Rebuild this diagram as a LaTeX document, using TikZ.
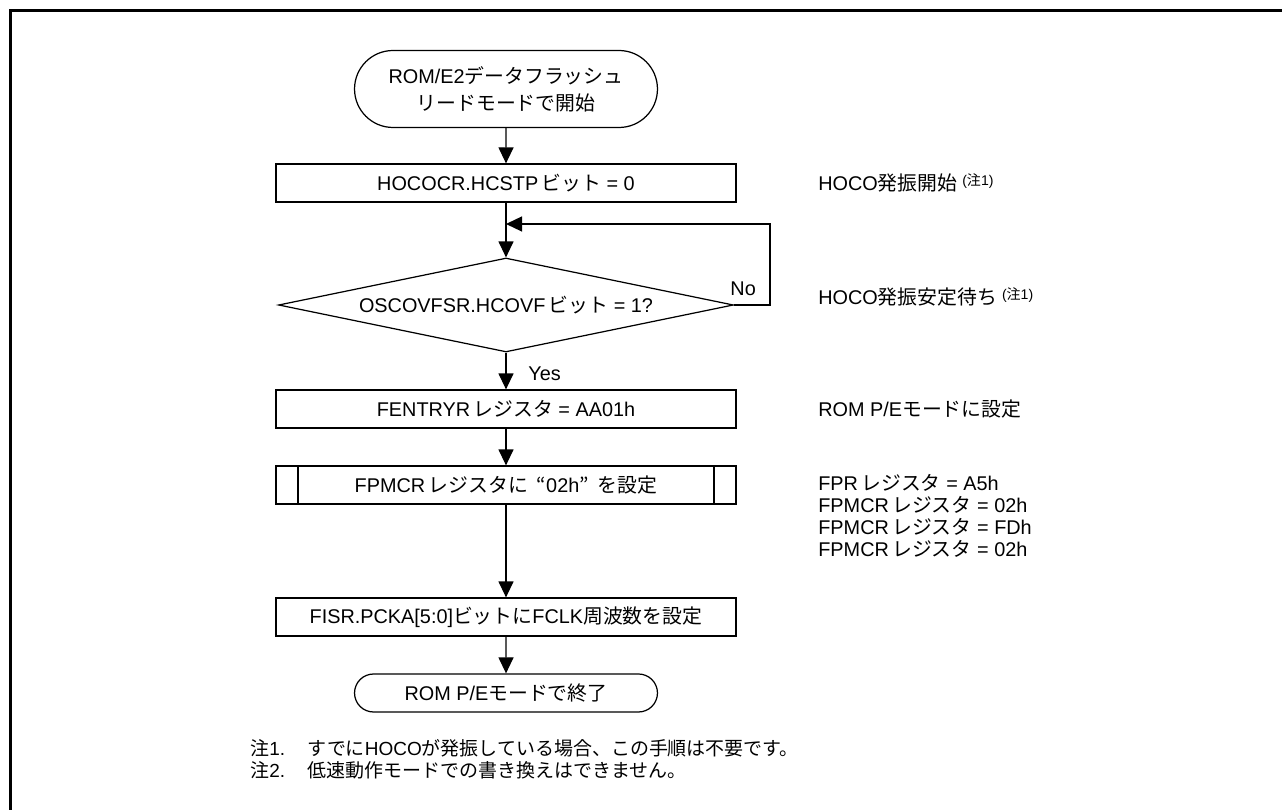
\documentclass[tikz,border=0pt]{standalone}
\usepackage{fontspec}
\setmainfont{Liberation Sans}
\newfontfamily\jpfont{Noto Sans CJK JP}
\newcommand{\jp}[1]{{\jpfont #1}}
\newcommand{\chu}[1]{\hspace{0.25em}\raisebox{0.55ex}{\fontsize{8pt}{8pt}\selectfont(\jp{注}#1)}}
\usetikzlibrary{arrows.meta,shapes.geometric,shapes.misc,positioning,calc}

\tikzset{
  stepbox/.style={draw,line width=0.7pt,rectangle,minimum width=9.2cm,minimum height=0.76cm,inner sep=0pt},
  termbox/.style={draw,line width=0.7pt,rounded rectangle,minimum width=6.06cm,inner sep=0pt,align=center},
  askbox/.style={draw,line width=0.7pt,diamond,aspect=4.8,minimum width=9.1cm,minimum height=1.88cm,inner sep=0pt},
  note/.style={anchor=west,inner sep=0pt,align=left},
  link/.style={line width=0.7pt,-{Triangle[length=3.2mm,width=3mm]}},
}

\begin{document}
\begin{tikzpicture}[x=0.02cm,y=-0.02cm,font=\fontsize{11.3pt}{12.6pt}\selectfont]
  \useasboundingbox (0,0) rectangle (1282,810);
  % frame
  \draw[line width=1.7pt] (10.5,810) -- (10.5,10.5) -- (1282,10.5);

  % flow
  \node[termbox,minimum height=1.54cm,font=\fontsize{11.3pt}{15.5pt}\selectfont] (start) at (506,89) {ROM/E2\jp{データフラッシュ}\\\jp{リードモードで開始}};
  \node[stepbox] (hcstp) at (506,183) {HOCOCR.HCSTP\,\jp{ビット} = 0};
  \node[askbox] (hcovf) at (506,305) {OSCOVFSR.HCOVF\,\jp{ビット} = 1?};
  \node[stepbox] (fentry) at (506,409) {FENTRYR\,\jp{レジスタ} = AA01h};
  \node[stepbox] (fpmcr) at (506,485) {FPMCR\,\jp{レジスタに}\hspace{0.45em}\jp{“}02h\jp{”}\hspace{0.45em}\jp{を設定}};
  \draw[line width=0.7pt] ([xshift=4.5mm]fpmcr.north west) -- ([xshift=4.5mm]fpmcr.south west)
    ([xshift=-4.5mm]fpmcr.north east) -- ([xshift=-4.5mm]fpmcr.south east);
  \node[stepbox] (pcka) at (506,617) {FISR.PCKA[5:0]\jp{ビットに}FCLK\jp{周波数を設定}};
  \node[termbox,minimum height=0.76cm] (stop) at (506,693) {ROM P/E\jp{モードで終了}};

  \coordinate (loop) at (770,224);
  \draw[link] (start) -- (hcstp);
  \draw[link] (hcstp) -- (hcovf);
  \draw[link] (hcovf.east) -| (loop) -- (hcstp.south |- loop);
  \draw[link] (hcovf) -- (fentry);
  \draw[link] (fentry) -- (fpmcr);
  \draw[link] (fpmcr) -- (pcka);
  \draw[link] (pcka) -- (stop);
  \node[anchor=south west,inner sep=0pt] (no) at ([xshift=-0.8mm,yshift=1.8mm]hcovf.east) {No};
  \node[anchor=west,inner sep=0pt] (yes) at ([xshift=4.4mm,yshift=-0.5mm]$(hcovf.south)!0.5!(fentry.north)$) {Yes};

  % notes on the right
  \node[note] (n-hcstp) at (818,183) {HOCO\jp{発振開始}\chu{1}};
  \node[note] (n-hcovf) at (818,297) {HOCO\jp{発振安定待ち}\chu{1}};
  \node[note] (n-fentry) at (818,409) {ROM P/E\jp{モードに設定}};
  \node[note,anchor=north west] (n-fpmcr) at (818,474) {FPR\,\jp{レジスタ} = A5h\\FPMCR\,\jp{レジスタ} = 02h\\FPMCR\,\jp{レジスタ} = FDh\\FPMCR\,\jp{レジスタ} = 02h};

  % footnotes
  \node[note,font=\fontsize{10.8pt}{12.6pt}\selectfont] (fn1) at (250,748) {\makebox[11.5mm][l]{\jp{注}1.}\jp{すでに}HOCO\jp{が発振している場合、この手順は不要です。}};
  \node[note,font=\fontsize{10.8pt}{12.6pt}\selectfont] (fn2) at (250,770) {\makebox[11.5mm][l]{\jp{注}2.}\jp{低速動作モードでの書き換えはできません。}};
\end{tikzpicture}
\end{document}
